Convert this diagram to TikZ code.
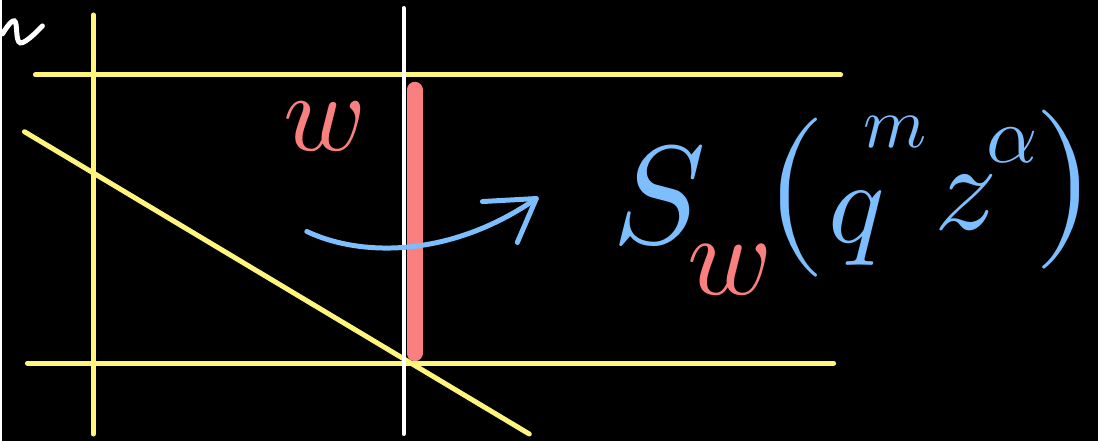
\documentclass[tikz,border=0pt]{standalone}
\usepackage{unicode-math}
\setmathfont{Latin Modern Math}
\usetikzlibrary{positioning}

\definecolor{penyellow}{HTML}{FFF47C}
\definecolor{penred}{HTML}{FA7F7F}
\definecolor{penblue}{HTML}{7DBEFF}

\begin{document}
\begin{tikzpicture}[x=1pt, y=-1pt,
  gridline/.style={draw=penyellow, line width=5pt, line cap=round},
  wall/.style={draw=white, line width=4pt, line cap=round},
  glyph/.style={inner sep=0pt, anchor=center}
]

% Background
\fill[black] (0,0) rectangle (1098,442);

% Yellow lines
\draw[gridline] (91,15) -- (91,435);
\draw[gridline] (33,75) -- (840,75);
\draw[gridline] (25,364) -- (833,364);
\draw[gridline] (22,132) -- (528,435);

% White wall and letter fragment
\draw[wall] (402,8) -- (402,435);
\draw[white, line width=5pt, line cap=round] plot[smooth, tension=0.7] coordinates {(0,34) (12,21) (18,43) (40,26)};

% Red wall
\coordinate (barTop) at (413,90);
\coordinate (barBot) at (413,354);
\draw[penred, line width=16pt, line cap=round] (barTop) -- (barBot);
\node[glyph, text=penred, font=\fontsize{112}{112}\selectfont] (wLabel) at (322,127) {$w$};

% Blue crossing arrow
\coordinate (arrStart) at (305,232);
\coordinate (arrTip) at (535,199);
\coordinate (barbA) at (481,202);
\coordinate (barbB) at (516,243);
\draw[penblue, line width=5pt, line cap=round] (arrStart) .. controls (360,258) and (450,258) .. (arrTip);
\draw[penblue, line width=5pt, line cap=round, line join=round] (barbA) -- (arrTip) -- (barbB);

% Formula
\node[glyph, text=penblue, font=\fontsize{140}{140}\selectfont] (S) at (658,196) {$S$};
\node[glyph, text=penred, font=\fontsize{115}{115}\selectfont] (wSub) at (728,270) {$w$};
\node[glyph, text=penblue, font=\fontsize{160}{160}\selectfont] (lpar) at (795,198) {$($};
\node[glyph, text=penblue, font=\fontsize{118}{118}\selectfont] (q) at (856,228) {$q$};
\node[glyph, text=penblue, font=\fontsize{72}{72}\selectfont] (m) at (895,132) {$m$};
\node[glyph, text=penblue, font=\fontsize{125}{125}\selectfont] (z) at (965,203) {$z$};
\node[glyph, text=penblue, font=\fontsize{80}{80}\selectfont] (alpha) at (1012,146) {$\alpha$};
\node[glyph, text=penblue, font=\fontsize{160}{160}\selectfont] (rpar) at (1064,190) {$)$};

\end{tikzpicture}
\end{document}
